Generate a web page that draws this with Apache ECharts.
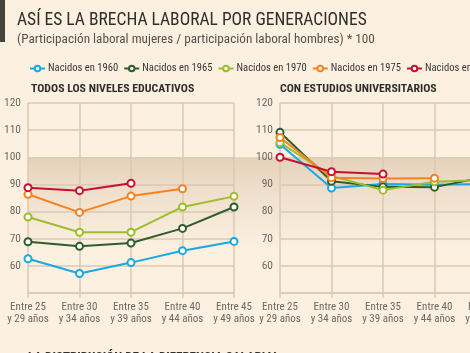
<!DOCTYPE html>
<html>
<head>
<meta charset="utf-8">
<script src="https://cdn.jsdelivr.net/npm/echarts@6/dist/echarts.min.js"></script>
<style>
  html, body { margin: 0; padding: 0; background: #fcf0e1; }
  #chart { width: 470px; height: 353px; }
</style>
</head>
<body>
<div id="chart"></div>
<script>
const font = '"Roboto Condensed", "Liberation Sans", sans-serif';

const ages = ['Entre 25\ny 29 años', 'Entre 30\ny 34 años', 'Entre 35\ny 39 años', 'Entre 40\ny 44 años', 'Entre 45\ny 49 años'];
const cohorts = ['Nacidos en 1960', 'Nacidos en 1965', 'Nacidos en 1970', 'Nacidos en 1975', 'Nacidos en 1980'];
const colors = ['#19a8e4', '#2e5d2a', '#9dbd2c', '#f6821f', '#c8102e'];

// todos los niveles educativos
const todos1960 = [62.6, 57.2, 61.2, 65.6, 69.0];
const todos1965 = [68.9, 67.2, 68.4, 73.8, 81.7];
const todos1970 = [78.0, 72.4, 72.4, 81.7, 85.6];
const todos1975 = [86.4, 79.7, 85.7, 88.4, null];
const todos1980 = [88.8, 87.7, 90.4, null, null];

// con estudios universitarios
const univ1960 = [104.8, 88.7, 90.2, 89.9, 90.2];
const univ1965 = [109.2, 91.2, 89.1, 89.0, 92.8];
const univ1970 = [105.4, 93.1, 87.9, 91.0, 91.6];
const univ1975 = [107.3, 92.5, 92.2, 92.3, null];
const univ1980 = [100.0, 94.7, 93.8, null, null];

const yTicks = { min: 50, max: 120, interval: 10 };

const todos = [todos1960, todos1965, todos1970, todos1975, todos1980];
const univ = [univ1960, univ1965, univ1970, univ1975, univ1980];

const gridLine = '#dbc9b2';
const labelColor = '#6e6a64';

let xAxis = (idx) => ({
    type: 'category',
    gridIndex: idx,
    data: ages,
    boundaryGap: false,
    axisLine: { lineStyle: { color: gridLine, width: 1.5 } },
    axisTick: { show: true, length: 5, lineStyle: { color: gridLine, width: 1.5 } },
    splitLine: { show: true, lineStyle: { color: gridLine, width: 1.5 } },
    axisLabel: {
        color: labelColor, fontFamily: font, fontSize: 11, lineHeight: 12,
        margin: 8, interval: 0
    }
})

let yAxis = (idx) => ({
    type: 'value',
    gridIndex: idx,
    min: yTicks.min,
    max: yTicks.max,
    interval: yTicks.interval,
    axisLine: { show: false },
    axisTick: { show: false },
    splitLine: { lineStyle: { color: gridLine, width: 1.5 } },
    axisLabel: { color: labelColor, fontFamily: font, fontSize: 11.5, margin: 7, showMinLabel: false }
})

let series = [];
[todos, univ].forEach((set, g) => {
    set.forEach((vals, k) => {
        series.push({
            name: cohorts[k],
            type: 'line',
            xAxisIndex: g,
            yAxisIndex: g,
            data: vals,
            symbol: 'emptyCircle',
            symbolSize: 7,
            z: 5,
            lineStyle: { color: colors[k], width: 2 },
            itemStyle: { color: colors[k], borderWidth: 2 },
            emphasis: { disabled: true }
        })
    })
})

var dom = document.getElementById('chart');
var echart = echarts.init(dom, null, { renderer: 'canvas' });

var option = {
    backgroundColor: '#fcf0e1',
    animation: false,
    color: colors,
    textStyle: { fontFamily: font },
    title: [
        {
            text: 'ASÍ ES LA BRECHA LABORAL POR GENERACIONES',
            left: 12, top: 7,
            textStyle: { fontFamily: font, fontSize: 17.5, fontWeight: 'normal', color: '#2f2e2b' }
        },
        {
            text: '(Participación laboral mujeres / participación laboral hombres) * 100',
            left: 12, top: 28,
            textStyle: { fontFamily: font, fontSize: 13.2, fontWeight: 'normal', color: '#55524d' }
        },
        {
            text: 'TODOS LOS NIVELES EDUCATIVOS',
            left: 26, top: 78,
            textStyle: { fontFamily: font, fontSize: 11.8, fontWeight: 'bold', color: '#2f2e2b' }
        },
        {
            text: 'CON ESTUDIOS UNIVERSITARIOS',
            left: 275, top: 78,
            textStyle: { fontFamily: font, fontSize: 11.8, fontWeight: 'bold', color: '#2f2e2b' }
        },
        {
            text: 'LA DISTRIBUCIÓN DE LA DIFERENCIA SALARIAL',
            left: 23, top: 346,
            textStyle: { fontFamily: font, fontSize: 13, fontWeight: 'bold', color: '#2f2e2b' }
        }
    ],
    legend: {
        data: cohorts,
        left: 24,
        top: 58,
        width: 800,
        itemWidth: 15,
        itemHeight: 7,
        itemGap: 5,
        textStyle: { fontFamily: font, fontSize: 10.6, color: '#3a3835', padding: [0, 0, 0, -2] }
    },
    grid: [
        { left: 28, top: 103, width: 206, height: 190, outerBoundsMode: 'none' },
        { left: 280, top: 103, width: 206, height: 190, outerBoundsMode: 'none' }
    ],
    xAxis: [xAxis(0), xAxis(1)],
    yAxis: [yAxis(0), yAxis(1)],
    series: series
};

echart.setOption(option);

// franja por debajo de 100 y barra lateral del titulo
let p100 = echart.convertToPixel({ gridIndex: 0 }, [0, 100]);
let p65 = echart.convertToPixel({ gridIndex: 0 }, [0, 66]);
echart.setOption({
    graphic: [
        {
            type: 'rect',
            z: -10,
            silent: true,
            shape: { x: p100[0], y: p100[1], width: 470 - p100[0], height: p65[1] - p100[1] },
            style: {
                fill: new echarts.graphic.LinearGradient(0, 0, 0, 1, [
                    { offset: 0, color: 'rgba(190,160,125,0.38)' },
                    { offset: 0.45, color: 'rgba(190,160,125,0.18)' },
                    { offset: 1, color: 'rgba(190,160,125,0)' }
                ])
            }
        },
        {
            type: 'rect',
            silent: true,
            shape: { x: 0, y: 0, width: 5, height: 42 },
            style: { fill: '#45443c' }
        }
    ]
});
</script>
</body>
</html>
